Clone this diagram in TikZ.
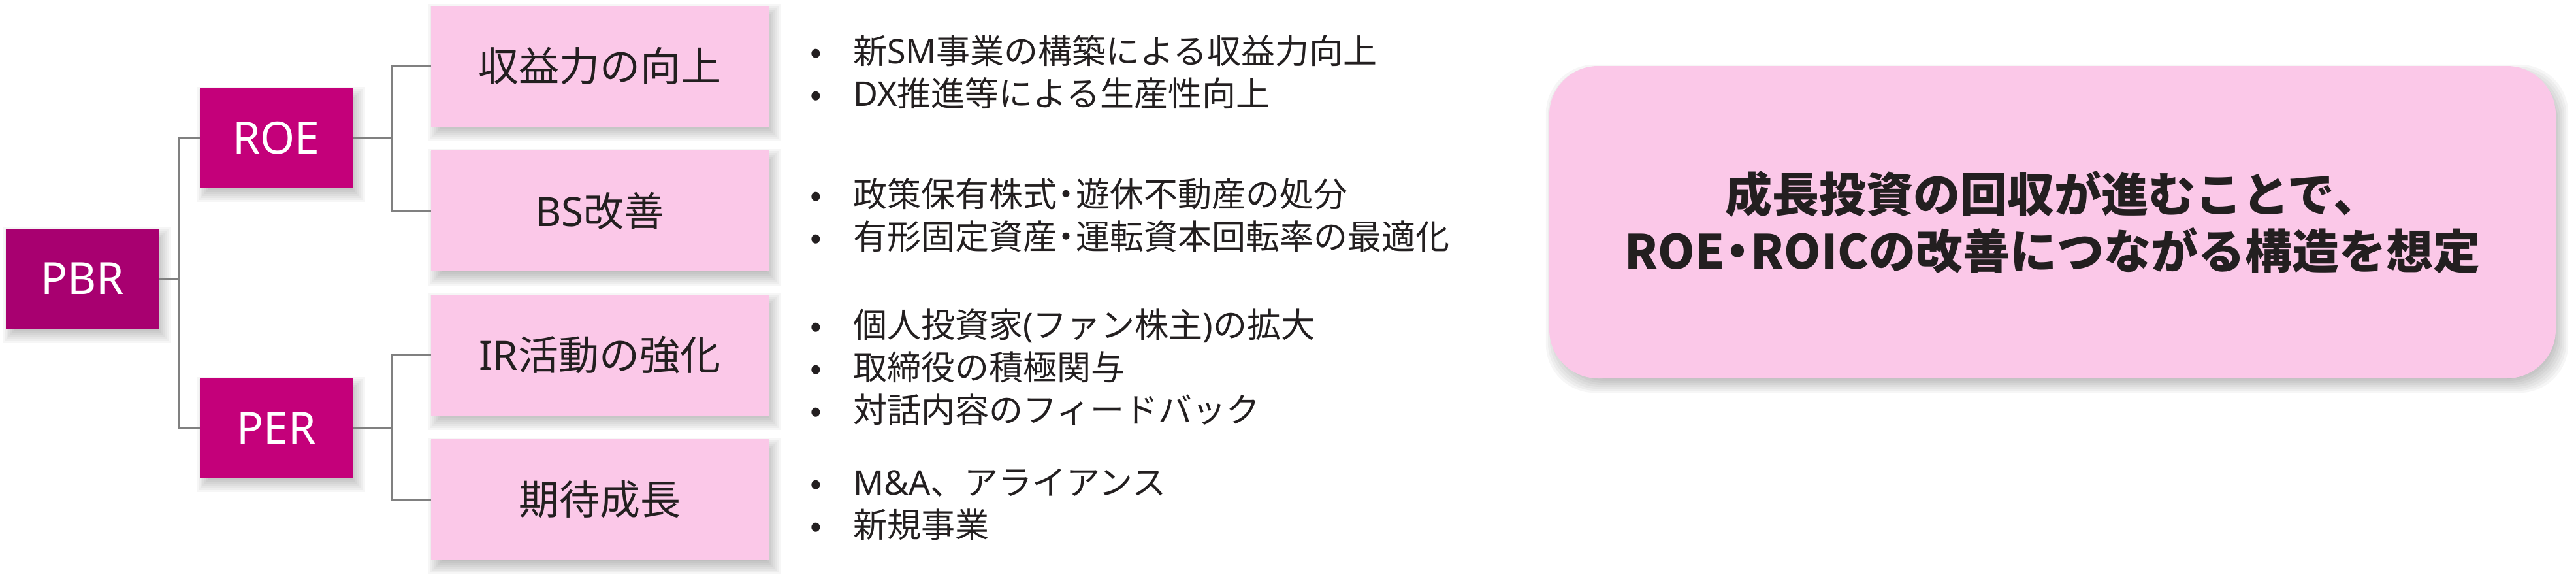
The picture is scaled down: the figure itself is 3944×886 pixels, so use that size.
\documentclass[tikz,border=0pt]{standalone}
\usepackage{fontspec}
\setmainfont{Noto Sans CJK JP}
\newfontfamily\latf{Noto Sans}
\usetikzlibrary{backgrounds}
\definecolor{darkmag}{RGB}{168,0,112}
\definecolor{mag}{RGB}{196,0,122}
\definecolor{lpink}{RGB}{251,200,232}
\definecolor{txt}{RGB}{35,31,32}
\definecolor{connc}{RGB}{128,128,128}
\tikzset{
  topbox/.style={fill=darkmag, text=white, minimum width=234pt, minimum height=153pt, inner sep=0pt, font=\latf\fontsize{68}{80}\selectfont},
  midbox/.style={fill=mag, text=white, minimum width=234pt, minimum height=152pt, inner sep=0pt, font=\latf\fontsize{68}{80}\selectfont},
  leafbox/.style={fill=lpink, text=txt, minimum width=517pt, minimum height=185pt, inner sep=0pt, font=\fontsize{62}{72}\selectfont},
  sumbox/.style={fill=lpink, text=txt, rounded corners=75pt, minimum width=1541pt, minimum height=478pt, inner sep=0pt, align=center, font=\fontsize{72}{87}\bfseries\selectfont},
  blist/.style={anchor=west, inner sep=0pt, align=left, text=txt, font=\fontsize{52}{65}\selectfont},
  conn/.style={draw=connc, line width=3.5pt},
}
\newcommand{\bitem}[1]{\makebox[66pt][l]{•}#1}
\newcommand{\lt}[1]{{\latf #1}}
\newcommand{\ndot}{\kern-0.22em・\kern-0.22em}
\begin{document}
\begin{tikzpicture}[x=1pt,y=-1pt]
\useasboundingbox (0,0) rectangle (3944,886);
\node[topbox] (pbr) at (126,426.5) {PBR};
\node[midbox] (roe) at (423,211) {ROE};
\node[midbox] (per) at (423,655) {PER};
\node[leafbox] (a) at (918.5,101) {収益力の向上};
\node[leafbox] (b) at (918.5,322.5) {\lt{BS}改善};
\node[leafbox] (c) at (918.5,543.5) {\lt{IR}活動の強化};
\node[leafbox] (d) at (918.5,764.5) {期待成長};
\node[sumbox] (s) at (3142.5,340) {成長投資の回収が進むことで、\\ROE\ndot ROICの改善につながる構造を想定};
\node[blist] (la) at (1240,110.5) {\bitem{新\lt{SM}事業の構築による収益力向上}\\\bitem{\lt{DX}推進等による生産性向上}};
\node[blist] (lb) at (1240,329.5) {\bitem{政策保有株式\ndot 遊休不動産の処分}\\\bitem{有形固定資産\ndot 運転資本回転率の最適化}};
\node[blist] (lc) at (1240,561.5) {\bitem{個人投資家\lt{(}ファン株主\lt{)}の拡大}\\\bitem{取締役の積極関与}\\\bitem{対話内容のフィードバック}};
\node[blist] (ld) at (1240,772) {\bitem{\lt{M\&A}、アライアンス}\\\bitem{新規事業}};
\begin{scope}[on background layer]
\foreach \n in {pbr,roe,per,a,b,c,d} {
  \foreach \s in {-12,-9,...,12} {
    \fill[black,opacity=0.035] ([shift={(7+\s,10+\s)}]\n.north west) rectangle ([shift={(7-\s,10-\s)}]\n.south east);
  }
}
\foreach \s in {-12,-9,...,12} {
  \fill[black,opacity=0.035,rounded corners=75pt] ([shift={(7+\s,10+\s)}]s.north west) rectangle ([shift={(7-\s,10-\s)}]s.south east);
}
\draw[conn] (pbr.east) -- ++(31,0) coordinate (j1);
\draw[conn] (roe.west) -| (j1);
\draw[conn] (per.west) -| (j1);
\draw[conn] (roe.east) -- ++(60,0) coordinate (j2);
\draw[conn] (a.west) -| (j2);
\draw[conn] (b.west) -| (j2);
\draw[conn] (per.east) -- ++(60,0) coordinate (j3);
\draw[conn] (c.west) -| (j3);
\draw[conn] (d.west) -| (j3);
\end{scope}
\end{tikzpicture}
\end{document}
